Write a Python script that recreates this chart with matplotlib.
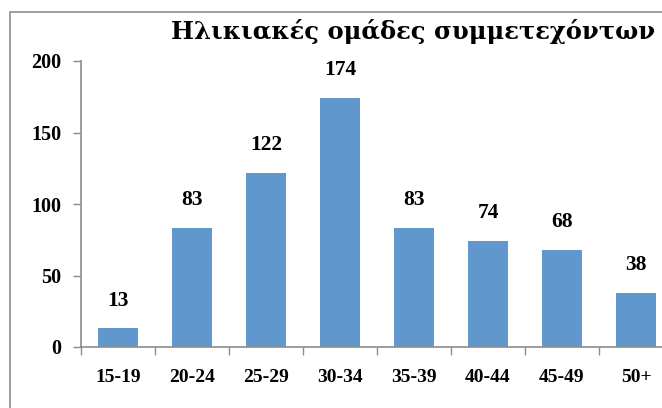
import matplotlib
matplotlib.use("Agg")
import matplotlib.pyplot as plt
from matplotlib.patches import Rectangle

categories = ["15-19", "20-24", "25-29", "30-34", "35-39", "40-44", "45-49", "50+"]
values = [13, 83, 122, 174, 83, 74, 68, 38]
yticks = [0, 50, 100, 150, 200]
title = "Ηλικιακές ομάδες συμμετεχόντων"

W, H = 662, 408
fig = plt.figure(figsize=(W / 100, H / 100), dpi=100)
fig.patch.set_facecolor("white")

# outer chart frame (cropped on the right and bottom)
fig.patches.append(Rectangle((10 / W, -0.05), 1.2, 1 - 12 / H + 0.05,
                             transform=fig.transFigure, fill=False,
                             edgecolor="#8c8c8c", linewidth=1.2))

ax_left, ax_right = 81 / W, 673 / W
ax_bottom, ax_top = 1 - 347 / H, 1 - 61 / H
ax = fig.add_axes([ax_left, ax_bottom, ax_right - ax_left, ax_top - ax_bottom])
ax.set_facecolor("none")

font = "Liberation Serif"
x = list(range(len(categories)))
bars = ax.bar(x, values, width=0.54, color="#6097cc", edgecolor="none", zorder=2)
for xi, v in zip(x, values):
    ax.text(xi, v + 12.5, str(v), ha="center", va="bottom", fontsize=15.5,
            fontweight="bold", family=font)

ax.set_xlim(-0.5, len(categories) - 0.5)
ax.set_ylim(0, 200)
ax.set_yticks(yticks)
ax.set_yticklabels([str(t) for t in yticks], fontsize=14.5, fontweight="bold", family=font)
ax.set_xticks([i - 0.5 for i in range(len(categories) + 1)], minor=False)
ax.set_xticklabels([])
ax.set_xticks(x, minor=True)
ax.set_xticklabels(categories, minor=True, fontsize=14, fontweight="bold", family=font)
ax.tick_params(axis="x", which="major", length=6, color="#8c8c8c", width=1)
ax.tick_params(axis="x", which="minor", length=0, pad=16)
ax.tick_params(axis="y", length=6, color="#8c8c8c", width=1, pad=8)

for s in ["top", "right"]:
    ax.spines[s].set_visible(False)
for s in ["left", "bottom"]:
    ax.spines[s].set_color("#8c8c8c")
    ax.spines[s].set_linewidth(1.2)

fig.text(171 / W, 1 - 39 / H, title, fontsize=17.5, fontweight="bold", family="DejaVu Serif",
         ha="left", va="baseline")

fig.savefig("out.png", dpi=100)
